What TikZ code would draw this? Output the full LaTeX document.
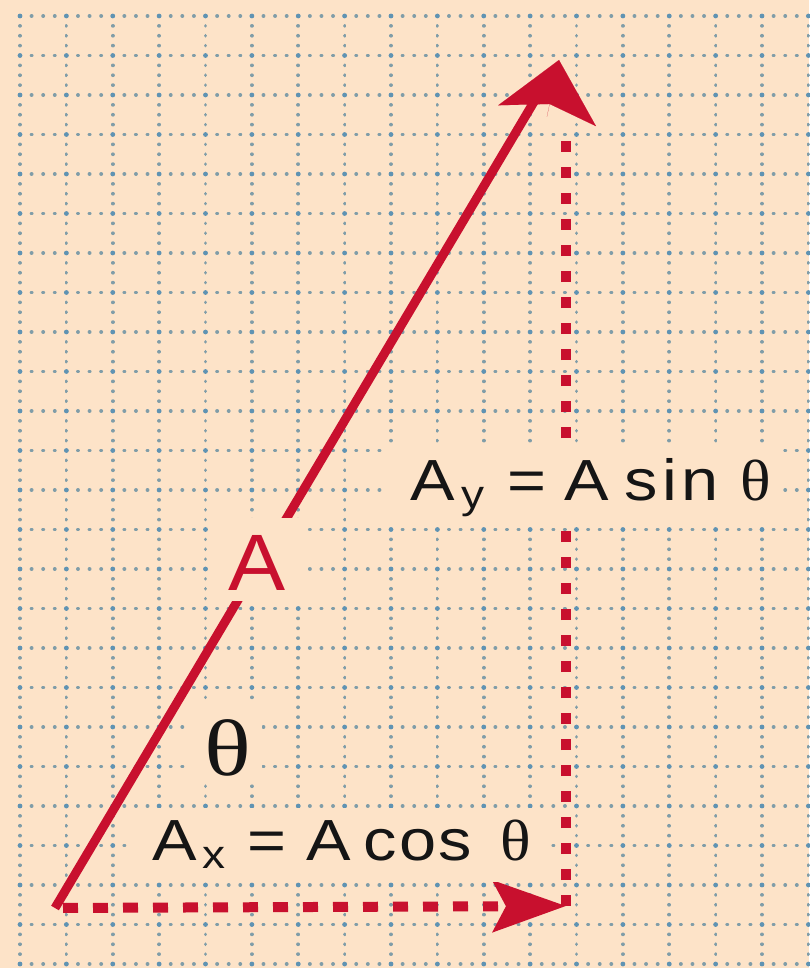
\documentclass[tikz,border=0pt]{standalone}
\usepackage{fontspec}
\setmainfont{Liberation Sans}
\newfontfamily\labfont[FakeStretch=1.15]{Liberation Sans}
\newfontfamily\bigfont[FakeStretch=1.07]{Liberation Sans}
\newfontfamily\thfont[FakeStretch=1.1]{Liberation Serif}
\newfontfamily\bigthfont[FakeStretch=1.22]{Liberation Serif}
\usetikzlibrary{arrows.meta}
\definecolor{paper}{HTML}{FDE3C8}
\definecolor{vred}{HTML}{C8102E}
\definecolor{griddot}{HTML}{809DA8}
\definecolor{gridx}{HTML}{5F93B3}
\definecolor{ink}{HTML}{151515}
\begin{document}
\begin{tikzpicture}[x=1pt,y=-1pt,
  hdots/.style={griddot, line width=3.9pt, line cap=round, dash pattern=on 0.01pt off 11.584pt},
  vdots/.style={griddot, line width=3.7pt, line cap=round, dash pattern=on 0.01pt off 9.865pt},
  shaft/.style={vred, line width=9pt},
  headtip/.style={vred, line width=0.1pt, -{Stealth[length=57pt,width=100pt,inset=12pt]}},
  comp/.style={vred, line width=10pt},
  lab/.style={fill=paper, inner sep=0pt, outer sep=0pt, anchor=base west, text=ink},
]
\fill[paper] (0,0) rectangle (809,968);
\useasboundingbox (0,0) rectangle (809,968);
% dotted grid
\foreach \k in {0,...,24} \draw[hdots] (20,16+39.5*\k) -- (812,16+39.5*\k);
\foreach \k in {0,...,17} \draw[vdots] (20+46.375*\k,16) -- (20+46.375*\k,972);
\foreach \i in {0,...,17} \foreach \j in {0,...,24} \fill[gridx] (20+46.375*\i,16+39.5*\j) circle (2.4pt);
% points
\coordinate (O) at (55,908);
\coordinate (T) at (559,60);
\coordinate (S) at (541,90);
\coordinate (H) at (546.9,116.7);
\coordinate (C) at (566,906);
\coordinate (U) at (566,130);
% vectors
\draw[shaft] (O) -- (S);
\draw[headtip] (H) -- (T);
\draw[comp, dash pattern=on 15pt off 15pt, dash phase=22pt, -{Stealth[length=73pt,width=51pt,inset=13pt]}] (O) -- (C);
\draw[comp, dash pattern=on 11pt off 15pt] (C) -- (U);
% labels
\node[lab, text height=55pt, text depth=25pt] (ay) at (386,500)
  {\makebox[392pt][l]{\fontsize{58}{60}\labfont\hspace{24pt}A\hspace{7pt}\raisebox{-8pt}{\fontsize{40}{40}\labfont y}\hspace{23pt}=\hspace{18pt}A\hspace{16pt}{\addfontfeature{LetterSpace=7}sin}\hspace{22pt}{\fontsize{58}{60}\thfont θ}}};
\node[lab, text height=52pt, text depth=22pt] (ax) at (130,860)
  {\makebox[418pt][l]{\fontsize{58}{60}\labfont\hspace{22pt}A\hspace{6pt}\raisebox{-8pt}{\fontsize{40}{40}\labfont x}\hspace{22pt}=\hspace{20pt}A\hspace{13pt}{\addfontfeature{LetterSpace=4}cos}\hspace{28pt}{\fontsize{58}{60}\thfont θ}}};
\node[lab, text height=72pt, text depth=11pt, text=vred] (alab) at (210,590)
  {\makebox[94pt][l]{\fontsize{80}{80}\bigfont\hspace{18pt}A}};
\node[lab, text height=71pt, text depth=9pt] (th) at (187,775)
  {\makebox[75pt][l]{\fontsize{80}{80}\bigthfont\hspace{17pt}θ}};
\end{tikzpicture}
\end{document}
